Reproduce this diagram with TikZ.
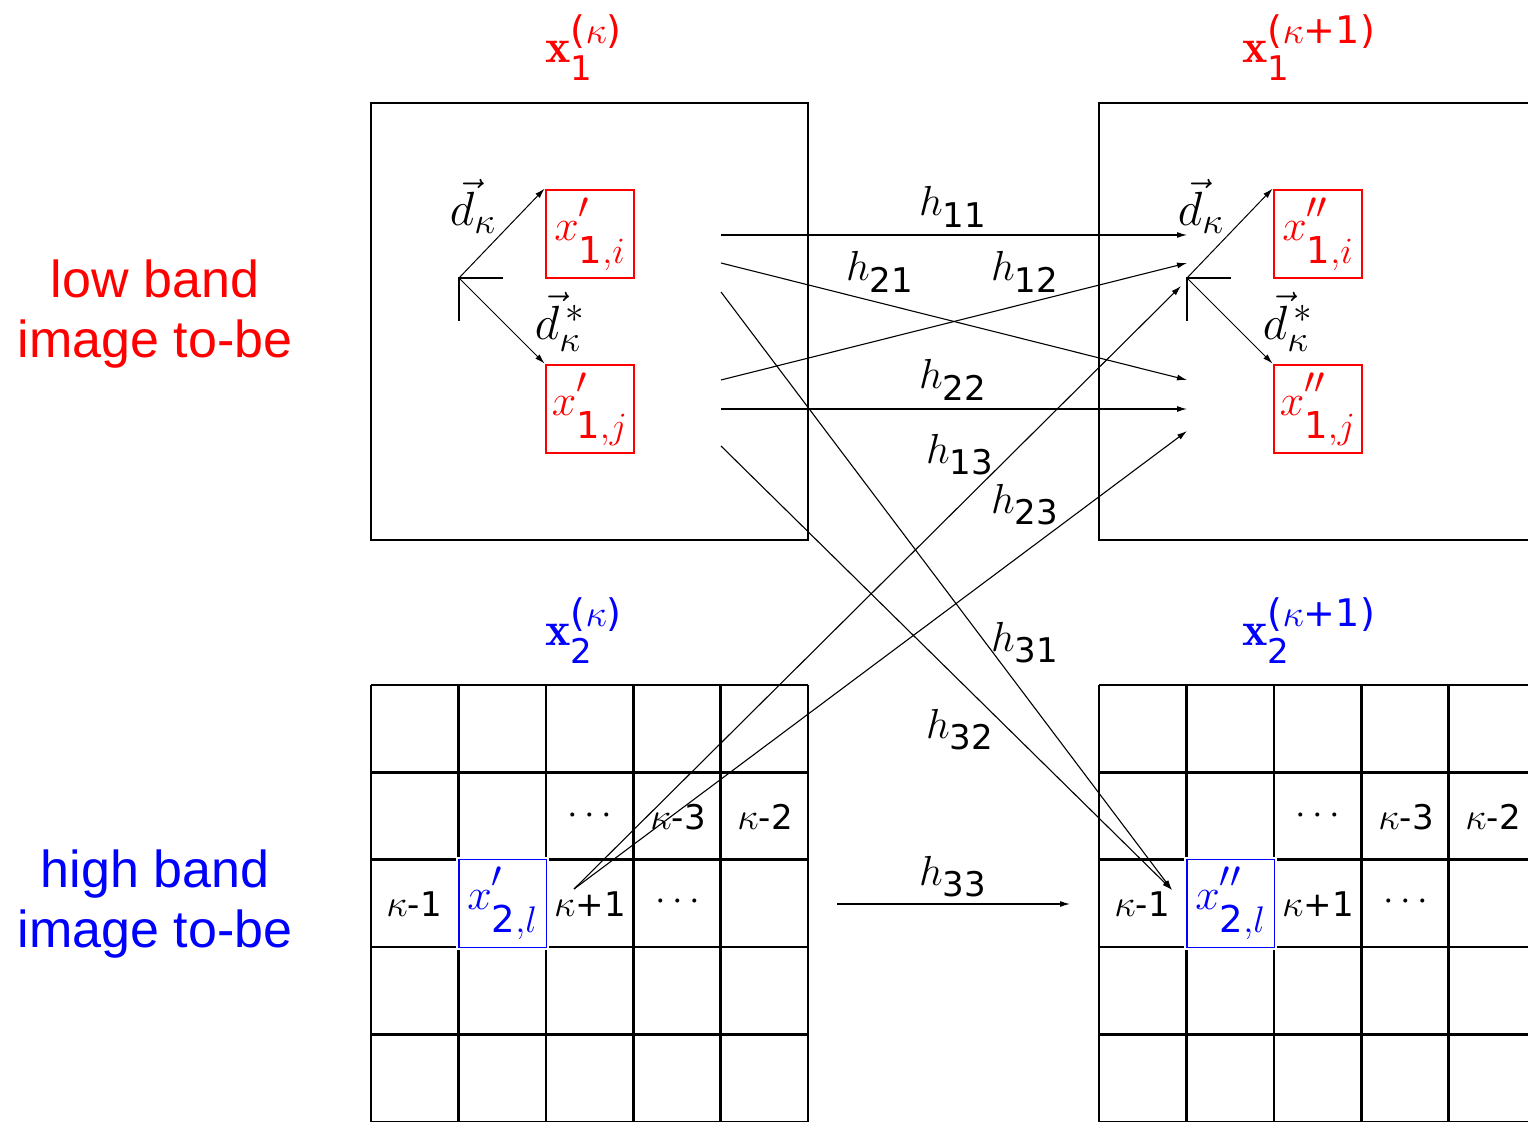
\RequirePackage{fix-cm}
\documentclass[tikz,border=0pt]{standalone}
\usepackage{fontspec}
\setsansfont{DejaVu Sans}
\newfontfamily\labelfont{Liberation Sans}
\usetikzlibrary{arrows.meta}
\definecolor{myred}{RGB}{255,0,0}
\definecolor{myblue}{RGB}{0,0,255}
\DeclareMathSizes{21}{21}{17}{13}
\DeclareMathSizes{22}{22}{18.5}{15}
\DeclareMathSizes{24}{24}{18.5}{15}
\DeclareMathSizes{19}{19}{15}{12}
\newcommand\hfont{\fontsize{21}{25}\selectfont}
\newcommand\tfont{\fontsize{24}{28}\selectfont}
\newcommand\bfont{\fontsize{22}{26}\selectfont}
\newcommand\dfont{\fontsize{24}{28}\selectfont}
\newcommand\gfont{\fontsize{19}{22}\selectfont}
\newcommand\gnum[1]{{\fontsize{17}{20}\selectfont\sffamily #1}}
% variable with raised prime and lowered subscript
\newcommand\pvar[3]{$#1^{\raisebox{3pt}{$\scriptstyle#2$}}_{\raisebox{-6pt}{$\scriptstyle#3$}}$}
% h labels
\newcommand\hl[1]{$h_{\raisebox{-2.5pt}{$\scriptstyle\mathsf{#1}$}}$}
% top labels
\newcommand\toplab[2]{$\mathbf{x}^{\raisebox{1pt}{\fontsize{19}{22}\selectfont\sffamily(#2)}}_{\raisebox{-3pt}{\fontsize{17}{20}\selectfont\sffamily #1}}$}
\tikzset{
  frameline/.style={line width=1.3pt},
  gridline/.style={line width=1.3pt},
  redbox/.style={draw=myred, text=myred, line width=1.4pt, minimum size=44pt, inner sep=0pt, font=\bfont},
  bluecell/.style={draw=myblue, text=myblue, line width=0.6pt, minimum size=43.7pt, inner sep=0pt, fill=white, preaction={draw=white, line width=2.6pt}, font=\bfont},
  conn/.style={line width=0.55pt, -{Latex[length=5pt,width=3pt]}},
  darrow/.style={line width=0.5pt, -{Latex[length=5pt,width=3pt]}},
  cornerline/.style={line width=1pt},
  hlabel/.style={inner sep=0pt, font=\hfont},
  dlabel/.style={inner sep=0pt, font=\dfont},
  toplabel/.style={inner sep=0pt, anchor=base west, font=\tfont},
  gtext/.style={inner sep=0pt, anchor=base, font=\gfont},
  sidelabel/.style={align=center, font=\labelfont\fontsize{26}{30}\selectfont}
}
\begin{document}
\begin{tikzpicture}[x=0.5pt, y=-0.5pt]
\path[use as bounding box] (0,0) rectangle (1528,1122);
\clip (0,0) rectangle (1528,1122);

% side labels
\node[sidelabel, text=myred] (low) at (155,314) {low band\\image to-be};
\node[sidelabel, text=myblue] (high) at (155,904) {high band\\image to-be};

% top labels
\node[toplabel, text=myred] (t1) at (545,63) {\toplab{1}{$\kappa$}};
\node[toplabel, text=myred] (t2) at (1242,63) {\toplab{1}{$\kappa$+1}};
\node[toplabel, text=myblue] (t3) at (545,646) {\toplab{2}{$\kappa$}};
\node[toplabel, text=myblue] (t4) at (1242,646) {\toplab{2}{$\kappa$+1}};

% upper frames
\coordinate (U1a) at (371,103); \coordinate (U1b) at (808,540);
\coordinate (U2a) at (1099,103); \coordinate (U2b) at (1536,540);
\draw[frameline] (U1a) rectangle (U1b);
\draw[frameline] (U2a) rectangle (U2b);

% lower grids
\foreach \i in {0,...,5} {
  \draw[gridline] (371+87.4*\i,685) -- (371+87.4*\i,1124);
  \draw[gridline] (371,685+87.4*\i) -- (808,685+87.4*\i);
  \draw[gridline] (1099+87.4*\i,685) -- (1099+87.4*\i,1124);
  \draw[gridline] (1099,685+87.4*\i) -- (1540,685+87.4*\i);
}

% red boxes
\node[redbox] (ri1) at (590,234) {\pvar{x}{\prime}{\mathsf{1},i}};
\node[redbox] (rj1) at (590,409) {\pvar{x}{\prime}{\mathsf{1},j}};
\node[redbox] (ri2) at (1318,234) {\pvar{x}{\prime\prime}{\mathsf{1},i}};
\node[redbox] (rj2) at (1318,409) {\pvar{x}{\prime\prime}{\mathsf{1},j}};

% corner marks and direction arrows
\coordinate (Lv) at (459,278);
\coordinate (Lh) at (503,278);
\coordinate (Ld) at (459,321);
\coordinate (Rv) at (1187,278);
\coordinate (Rh) at (1231,278);
\coordinate (Rd) at (1187,321);
\draw[cornerline] (Lh) -- (Lv) -- (Ld);
\draw[cornerline] (Rh) -- (Rv) -- (Rd);
\draw[darrow] (Lv) -- (ri1.north west);
\draw[darrow] (Lv) -- (rj1.north west);
\draw[darrow] (Rv) -- (ri2.north west);
\draw[darrow] (Rv) -- (rj2.north west);
\node[dlabel] (dk1) at (473,206) {$\vec{d}_{\kappa}$};
\node[dlabel] (ds1) at (560,322) {$\vec{d}^{\,*}_{\kappa}$};
\node[dlabel] (dk2) at (1201,206) {$\vec{d}_{\kappa}$};
\node[dlabel] (ds2) at (1288,322) {$\vec{d}^{\,*}_{\kappa}$};

% grid texts left
\node[gtext] (gA1) at (590,825) {$\cdots$};
\node[gtext] (gB1) at (678,830) {$\kappa$\gnum{-3}};
\node[gtext] (gC1) at (765,830) {$\kappa$\gnum{-2}};
\node[gtext] (gD1) at (414,917) {$\kappa$\gnum{-1}};
\node[gtext] (gE1) at (590,917) {$\kappa$\gnum{+1}};
\node[gtext] (gF1) at (678,911) {$\cdots$};
\node[bluecell] (bl1) at (502.7,903.5) {\pvar{x}{\prime}{\mathsf{2},l}};
% grid texts right
\node[gtext] (gA2) at (1318,825) {$\cdots$};
\node[gtext] (gB2) at (1406,830) {$\kappa$\gnum{-3}};
\node[gtext] (gC2) at (1493,830) {$\kappa$\gnum{-2}};
\node[gtext] (gD2) at (1142,917) {$\kappa$\gnum{-1}};
\node[gtext] (gE2) at (1318,917) {$\kappa$\gnum{+1}};
\node[gtext] (gF2) at (1406,911) {$\cdots$};
\node[bluecell] (bl2) at (1230.7,903.5) {\pvar{x}{\prime\prime}{\mathsf{2},l}};

% connector end points
\coordinate (a11) at (721,235);  \coordinate (b11) at (1187,235);
\coordinate (a21) at (721,263);  \coordinate (b21) at (1187,380);
\coordinate (a12) at (721,380);  \coordinate (b12) at (1187,263);
\coordinate (a22) at (721,409);  \coordinate (b22) at (1187,409);
\coordinate (a31) at (721,292);
\coordinate (a32) at (721,446);
\coordinate (b3) at (1172,890);
\coordinate (a3) at (574,889);
\coordinate (b13) at (1181,286);
\coordinate (b23) at (1187,431);
\coordinate (a33) at (837,904);  \coordinate (b33) at (1070,904);

\draw[conn] (a11) -- (b11);
\draw[conn] (a21) -- (b21);
\draw[conn] (a12) -- (b12);
\draw[conn] (a22) -- (b22);
\draw[conn] (a31) -- (b3);
\draw[conn] (a32) -- (b3);
\draw[conn] (a3) -- (b13);
\draw[conn] (a3) -- (b23);
\draw[conn] (a33) -- (b33);

% h labels
\node[hlabel] (h11) at (953,207) {\hl{11}};
\node[hlabel] (h21) at (880,272) {\hl{21}};
\node[hlabel] (h12) at (1025,272) {\hl{12}};
\node[hlabel] (h22) at (953,380) {\hl{22}};
\node[hlabel] (h13) at (960,455) {\hl{13}};
\node[hlabel] (h23) at (1025,505) {\hl{23}};
\node[hlabel] (h31) at (1025,643) {\hl{31}};
\node[hlabel] (h32) at (960,730) {\hl{32}};
\node[hlabel] (h33) at (953,877) {\hl{33}};
\end{tikzpicture}
\end{document}
